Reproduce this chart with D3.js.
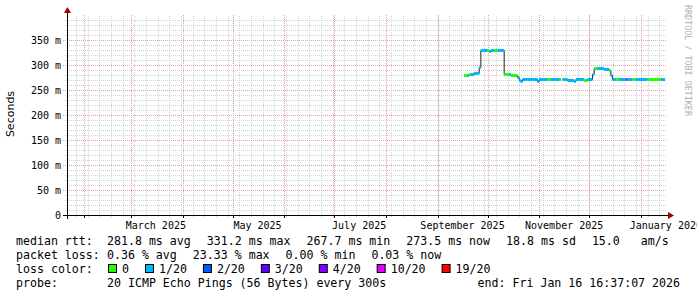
<!DOCTYPE html>
<html>
<head>
<meta charset="utf-8">
<script src="https://cdn.jsdelivr.net/npm/d3@7"></script>
<style>
  body { margin: 0; background: #fff; }
  svg { display: block; }
  text { font-family: "DejaVu Sans Mono", monospace; fill: #000; }
</style>
</head>
<body>
<svg></svg>
<script>
const width = 697;
const height = 297;

// ================================
// Data
// ================================

// each value holds until the next time (step), null = no data
const times = [
  "2025-09-17", "2025-09-19", "2025-09-20", "2025-09-21", "2025-09-23", "2025-09-25",
  "2025-09-26", "2025-09-27", "2025-10-01", "2025-10-02", "2025-10-03", "2025-10-05",
  "2025-10-07", "2025-10-11", "2025-10-14", "2025-10-15", "2025-10-19", "2025-10-20",
  "2025-10-21", "2025-10-22", "2025-10-25", "2025-10-28", "2025-10-31", "2025-11-01",
  "2025-11-06", "2025-11-08", "2025-11-10", "2025-11-13", "2025-11-14", "2025-11-15",
  "2025-11-18", "2025-11-22", "2025-11-23", "2025-11-28", "2025-11-30", "2025-12-03",
  "2025-12-04", "2025-12-06", "2025-12-10", "2025-12-13", "2025-12-14", "2025-12-15",
  "2025-12-17", "2025-12-19", "2025-12-23", "2025-12-24", "2025-12-27", "2025-12-29",
  "2026-01-05", "2026-01-13", "2026-01-15T12:00"
];
const median = [
  281, 281, 283, 283, 285, 284,
  296, 331, 331, 328, 330, 331,
  331, 282, 282, 281, 276, 271,
  268, 272, 273, 272, 268, 272,
  272, 272, 273, 272, null, 272,
  271, 269, 272, 271, 272, 283,
  293, 293, 292, 290, 281, 273,
  273, 273, 273, 273, 272, 273,
  272, 273, null
];
// index into lossLabels / lossColors
const loss = [
  0, 1, 0, 1, 1, 1,
  1, 1, 0, 1, 1, 0,
  1, 0, 1, 0, 1, 1,
  1, 1, 1, 1, 1, 1,
  0, 1, 1, 0, 1, 1,
  1, 1, 1, 0, 1, 1,
  0, 1, 1, 0, 1, 1,
  0, 1, 5, 1, 0, 1,
  0, 1, 1
];

const lossLabels = ["0", "1/20", "2/20", "3/20", "4/20", "10/20", "19/20"];
const lossColors = ["#26ff00", "#00b8ff", "#0059ff", "#5e00ff", "#7e00ff", "#dd00ff", "#ff0000"];

const yTicks = [0, 50, 100, 150, 200, 250, 300, 350];

const rttStats = ["281.8 ms avg", "331.2 ms max", "267.7 ms min", "273.5 ms now", "18.8 ms sd", "15.0   am/s"];
const lossStats = ["0.36 % avg", "23.33 % max", "0.00 % min", "0.03 % now"];
const probeText = "20 ICMP Echo Pings (56 Bytes) every 300s";
const endText = "end: Fri Jan 16 16:37:07 2026";

const end = new Date("2026-01-16T16:37:07Z");
const start = d3.utcDay.offset(end, -360);


// ================================
// Scales
// ================================

const x = d3.scaleUtc().domain([start, end]).range([67, 667]);
const y = d3.scaleLinear().domain([0, 400]).range([215, 15]);
const px = v => Math.round(v) + 0.5;

const svg = d3.select('svg')
  .attr('width', width)
  .attr('height', height);

svg.append('rect')
  .attr('width', width)
  .attr('height', height)
  .attr('fill', '#fff');


// ================================
// Grid
// ================================

const grid = svg.append('g').attr('shape-rendering', 'crispEdges');

const weeks = d3.utcMonday.range(start, end);
const months = d3.utcMonth.range(start, end);
const minorY = d3.range(10, 401, 10).filter(v => v % 50 !== 0);

grid.selectAll('line.vminor')
  .data(weeks)
  .enter()
  .append('line')
    .attr('x1', d => px(x(d))).attr('x2', d => px(x(d)))
    .attr('y1', 217).attr('y2', 15)
    .attr('stroke', '#d4d4d4')
    .attr('stroke-dasharray', '1,1');

grid.selectAll('line.hminor')
  .data(minorY)
  .enter()
  .append('line')
    .attr('x1', 65).attr('x2', 667)
    .attr('y1', d => px(y(d))).attr('y2', d => px(y(d)))
    .attr('stroke', '#d4d4d4')
    .attr('stroke-dasharray', '1,1');

grid.selectAll('line.vmajor')
  .data(months)
  .enter()
  .append('line')
    .attr('x1', d => px(x(d))).attr('x2', d => px(x(d)))
    .attr('y1', 218).attr('y2', 15)
    .attr('stroke', '#eba0a0')
    .attr('stroke-dasharray', '1,1');

grid.selectAll('line.hmajor')
  .data(yTicks.filter(d => d > 0))
  .enter()
  .append('line')
    .attr('x1', 63).attr('x2', 667)
    .attr('y1', d => px(y(d))).attr('y2', d => px(y(d)))
    .attr('stroke', '#eba0a0')
    .attr('stroke-dasharray', '1,1');


// ================================
// Median line coloured by loss
// ================================

const pts = times.map((t, i) => ({ t: new Date(t), v: median[i], l: loss[i] }));
const segs = d3.pairs(pts).filter(([a]) => a.v != null);

// thin dark step line underneath (shows on the jumps)
const stepPts = [];
d3.pairs(pts).forEach(([a, b]) => {
  if (a.v == null) { stepPts.push(null); return; }
  stepPts.push([a.t, a.v], [b.t, a.v]);
});

svg.append('path')
  .datum(stepPts)
  .attr('fill', 'none')
  .attr('stroke', '#202020')
  .attr('stroke-width', 1)
  .attr('d', d3.line()
    .defined(d => d != null)
    .x(d => x(d[0]))
    .y(d => px(y(d[1]))));

svg.append('g')
  .selectAll('line')
  .data(segs)
  .enter()
  .append('line')
    .attr('x1', d => x(d[0].t))
    .attr('x2', d => x(d[1].t))
    .attr('y1', d => px(y(d[0].v)))
    .attr('y2', d => px(y(d[0].v)))
    .attr('stroke', d => lossColors[d[0].l])
    .attr('stroke-width', 3);


// ================================
// Axes
// ================================

const axes = svg.append('g').attr('shape-rendering', 'crispEdges');

axes.append('line')
  .attr('x1', 63).attr('x2', 668)
  .attr('y1', 215.5).attr('y2', 215.5)
  .attr('stroke', '#000');

axes.append('line')
  .attr('x1', 67.5).attr('x2', 67.5)
  .attr('y1', 219).attr('y2', 12)
  .attr('stroke', '#000');

axes.selectAll('line.xt')
  .data(months)
  .enter()
  .append('line')
    .attr('x1', d => px(x(d))).attr('x2', d => px(x(d)))
    .attr('y1', 215).attr('y2', 218)
    .attr('stroke', '#000');

svg.append('path')
  .attr('d', 'M668,212 L674,215.5 L668,219 Z')
  .attr('fill', '#a00000');

svg.append('path')
  .attr('d', 'M64,13 L67.5,7 L71,13 Z')
  .attr('fill', '#a00000');

svg.selectAll('text.ytick')
  .data(yTicks)
  .enter()
  .append('text')
    .attr('x', 61)
    .attr('y', d => y(d) + 3.5)
    .attr('text-anchor', 'end')
    .style('font-size', '10px')
    .text(d => d === 0 ? '0' : d + ' m');

const labelMonths = d3.utcMonth.every(2).range(start, end);

svg.selectAll('text.xtick')
  .data(labelMonths)
  .enter()
  .append('text')
    .attr('x', d => x(d3.utcDay.offset(d, 15)))
    .attr('y', 229)
    .attr('text-anchor', 'middle')
    .style('font-size', '10px')
    .text(d => d3.utcFormat('%B %Y')(d));

svg.append('text')
  .attr('transform', 'translate(14,114) rotate(-90)')
  .attr('text-anchor', 'middle')
  .style('font-family', '"DejaVu Sans", sans-serif')
  .style('font-size', '11px')
  .text('Seconds');

svg.append('text')
  .attr('transform', 'translate(685,5) rotate(90)')
  .style('font-size', '8.4px')
  .style('fill', '#b0b0b0')
  .text('RRDTOOL / TOBI OETIKER');


// ================================
// Legend
// ================================

const legendFont = '11.6px';
const gap = 16;

function legendRow(label, chunks, yPos) {
  svg.append('text')
    .attr('x', 16).attr('y', yPos)
    .style('font-size', legendFont)
    .text(label);
  let cx = 107;
  chunks.forEach(c => {
    const t = svg.append('text')
      .attr('x', cx).attr('y', yPos)
      .attr('xml:space', 'preserve')
      .style('white-space', 'pre')
      .style('font-size', legendFont)
      .text(c);
    cx += t.node().getComputedTextLength() + gap;
  });
}

legendRow('median rtt:', rttStats, 245);
legendRow('packet loss:', lossStats, 259);

svg.append('text')
  .attr('x', 16).attr('y', 273)
  .style('font-size', legendFont)
  .text('loss color:');

let bx = 108;
lossLabels.forEach((lab, i) => {
  svg.append('rect')
    .attr('x', bx + 0.5).attr('y', 264.5)
    .attr('width', 8).attr('height', 8)
    .attr('fill', lossColors[i])
    .attr('stroke', '#000');
  const t = svg.append('text')
    .attr('x', bx + 14).attr('y', 273)
    .style('font-size', legendFont)
    .text(lab);
  bx += 14 + t.node().getComputedTextLength() + gap;
});

svg.append('text')
  .attr('x', 16).attr('y', 287)
  .style('font-size', legendFont)
  .text('probe:');

svg.append('text')
  .attr('x', 107).attr('y', 287)
  .style('font-size', legendFont)
  .text(probeText);

svg.append('text')
  .attr('x', 680).attr('y', 287)
  .attr('text-anchor', 'end')
  .style('font-size', legendFont)
  .text(endText);
</script>
</body>
</html>
